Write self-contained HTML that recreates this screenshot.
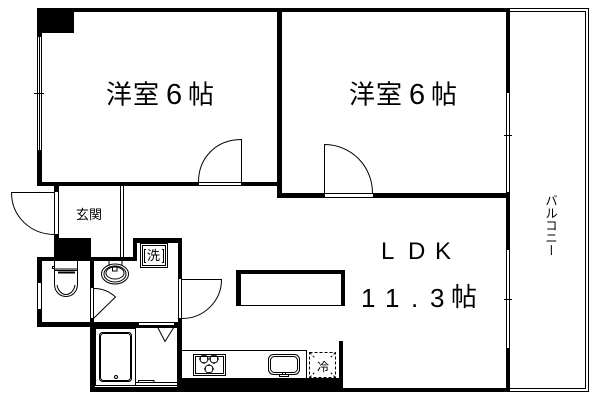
<!DOCTYPE html>
<html><head><meta charset="utf-8"><style>
html,body{margin:0;padding:0;background:#fff}
svg{display:block}
text{font-family:"Liberation Sans","Noto Sans CJK JP",sans-serif;fill:#000}
</style></head><body>
<svg width="600" height="400" viewBox="0 0 600 400" xmlns="http://www.w3.org/2000/svg">
<rect width="600" height="400" fill="#fff"/>
<g fill="#000" shape-rendering="crispEdges">
<rect x="37" y="8" width="473" height="4"/>
<rect x="37" y="8" width="5" height="178"/>
<rect x="37" y="8" width="37" height="25"/>
<rect x="37" y="182" width="245" height="4"/>
<rect x="277" y="8" width="5" height="190"/>
<rect x="277" y="193" width="233" height="5"/>
<rect x="506" y="8" width="4" height="384"/>
<rect x="54" y="186" width="5" height="52"/>
<rect x="54" y="238" width="37" height="19"/>
<rect x="37" y="257" width="5" height="70"/>
<rect x="37" y="257" width="54" height="4"/>
<rect x="37" y="322" width="57" height="5"/>
<rect x="90" y="257" width="4" height="135"/>
<rect x="90" y="257" width="47" height="4"/>
<rect x="133" y="238" width="4" height="23"/>
<rect x="133" y="238" width="49" height="5"/>
<rect x="178" y="238" width="4" height="154"/>
<rect x="90" y="322" width="92" height="5"/>
<rect x="90" y="387" width="92" height="5"/>
<rect x="178" y="378" width="165" height="14"/>
<rect x="339" y="341" width="4" height="51"/>
<rect x="343" y="388" width="167" height="4"/>
<rect x="236" y="270" width="109" height="4"/>
<rect x="236" y="270" width="5" height="36"/>
<rect x="341" y="270" width="4" height="36"/>
<rect x="236" y="305" width="109" height="1"/>
</g>
<g fill="#fff" shape-rendering="crispEdges">
<rect x="38" y="37" width="3" height="113"/>
<rect x="507" y="93" width="2" height="99"/>
<rect x="507" y="250" width="2" height="98"/>
<rect x="199" y="183" width="42" height="2"/>
<rect x="325" y="194" width="48" height="3"/>
<rect x="55" y="192" width="3" height="42"/>
<rect x="38" y="283" width="3" height="26"/>
<rect x="91" y="288" width="2" height="30"/>
<rect x="179" y="279" width="2" height="39"/>
<rect x="139" y="323" width="35" height="2"/>
</g>
<g fill="none" stroke="#000" stroke-width="1">
<path d="M39.5 37V150M34 93.5H44" shape-rendering="crispEdges"/>
<path d="M504 135.5H512M504 299.5H512" shape-rendering="crispEdges"/>
<path d="M510 8.5H588.5V391.5H510M510 11.5H585.5V388.5H510" shape-rendering="crispEdges"/>
<path d="M241.5 182V139.5C216 139.5 198.500 158 198.500 182"/>
<path d="M324.500 193V144.500C351 144.500 372.500 166 372.500 193"/>
<path d="M55 192.500H11.500C11.500 216 30 234.500 55 234.500"/>
<path d="M182 279.500H221.500C221.500 301 204 318.500 182 318.500"/>
<path d="M94 318L115.500 297C109 291 102 288.500 94 288.500"/>
<path d="M120.500 186V257M123.500 186V257" shape-rendering="crispEdges"/>
<path d="M94.500 327.500H177.500V387.500H94.500Z" shape-rendering="crispEdges"/>
<path d="M95.500 328.500H135.500V385.500H95.500Z" shape-rendering="crispEdges"/>
<rect x="99.500" y="332.500" width="32" height="49" rx="3"/>
<rect x="100.500" y="333.500" width="30" height="47" rx="3"/>
<circle cx="116" cy="377" r="1.500"/>
<path d="M157.500 327L165 341.500L174 327"/>
<path d="M138.500 382V380.500H154V382M135.500 382.500H177.500M135.500 385.500H177.500" shape-rendering="crispEdges"/>
<rect x="140.500" y="243.500" width="27" height="24" shape-rendering="crispEdges"/>
<rect x="142.500" y="245.500" width="23" height="20" shape-rendering="crispEdges"/>
<path d="M146 249.500H144.500V262.500H146M162 249.500H163.500V262.500H162" shape-rendering="crispEdges"/>
<path d="M109 261V266M122 261V266" shape-rendering="crispEdges"/>
<ellipse cx="115" cy="274" rx="13.500" ry="10"/>
<ellipse cx="115" cy="274" rx="11" ry="8"/>
<ellipse cx="115" cy="273" rx="9" ry="6"/>
<path d="M112.500 267V271H117V267"/>
<path d="M54.500 261V270.500H77.500V261M54.500 269H77.500" shape-rendering="crispEdges"/>
<path d="M54.500 270V284C54.500 292 60 296.500 66 296.500C72 296.500 77.500 292 77.500 284V270"/>
<path d="M57 285C58 291 62 294.500 66 294.500C70 294.500 74 291 75 285"/>
<path d="M58 272.500H75" stroke-width="2"/>
<rect x="52.500" y="266.500" width="2" height="2"/>
<path d="M182 350.500H306.500V378" shape-rendering="crispEdges"/>
<rect x="193.500" y="354.500" width="32" height="21" shape-rendering="crispEdges"/>
<rect x="195.500" y="356.500" width="28" height="17" shape-rendering="crispEdges"/>
<circle cx="204" cy="359" r="4"/><circle cx="214" cy="359" r="4"/><circle cx="209" cy="369" r="4"/>
<path d="M204 354V364M199 359H209M214 354V364M209 359H219M209 364V374M204 369H214" stroke-dasharray="2 6"/>
<rect x="268.500" y="354.500" width="31" height="20" rx="5"/>
<rect x="270.500" y="356.500" width="27" height="16" rx="4"/>
<path d="M279.500 374.500V376.500H288.500V374.500M282.500 372V374M285.500 372V374"/>
<rect x="309.500" y="352.500" width="26" height="25" stroke-dasharray="3 2" shape-rendering="crispEdges"/>
<path d="M310 353L315 358M335 353L330 358M310 377L315 372M335 377L330 372" stroke-dasharray="2 2"/>
</g>
<text x="106" y="103.500" font-size="26">洋</text>
<text x="133" y="103.500" font-size="26">室</text>
<text x="166" y="104" font-size="29">6</text>
<text x="188" y="103.500" font-size="26">帖</text>
<text x="349" y="103.500" font-size="26">洋</text>
<text x="376" y="103.500" font-size="26">室</text>
<text x="409" y="104" font-size="29">6</text>
<text x="431" y="103.500" font-size="26">帖</text>
<text x="381" y="259" font-size="24">L</text>
<text x="408" y="259" font-size="24">D</text>
<text x="435" y="259" font-size="24">K</text>
<text x="361" y="307" font-size="26">1</text>
<text x="385" y="307" font-size="26">1</text>
<text x="411" y="307" font-size="26">.</text>
<text x="430" y="307" font-size="26">3</text>
<text x="451" y="306" font-size="26">帖</text>
<text x="76" y="219" font-size="13">玄関</text>
<text x="147" y="260" font-size="13">洗</text>
<text x="317" y="371" font-size="12">冷</text>
<text x="550" y="194" font-size="12.500" style="writing-mode:vertical-rl">バルコニー</text>
</svg>
</body></html>
